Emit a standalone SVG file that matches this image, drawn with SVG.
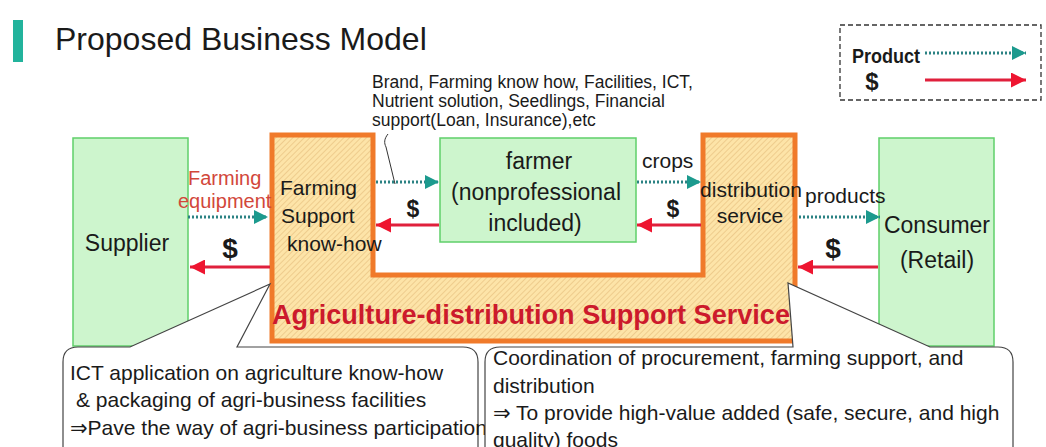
<svg xmlns="http://www.w3.org/2000/svg" width="1046" height="447" viewBox="0 0 1046 447">
  <style>
    text { font-family: "Liberation Sans", Arial, "DejaVu Sans", sans-serif; fill: #1a1a1a; }
    .box { fill: #cdf5cd; stroke: #5fcf6a; stroke-width: 1.5; }
    .lbl { font-size: 23px; }
    .mid { text-anchor: middle; }
    .small { font-size: 21px; }
    .note { font-size: 17.5px; }
    .dollar { font-weight: bold; text-anchor: middle; }
    .prod { fill: none; stroke: #2b8283; stroke-width: 3; stroke-dasharray: 2 2; marker-end: url(#tealHead); }
    .money { fill: none; stroke: #e0203c; stroke-width: 3; marker-end: url(#redHead); }
    .callout { fill: #ffffff; stroke: #444; stroke-width: 1.2; }
    .cap { font-size: 21px; }
  </style>
  <defs>
    <marker id="tealHead" markerUnits="userSpaceOnUse" markerWidth="14" markerHeight="14" refX="14" refY="7" orient="auto">
      <path d="M0,0 L14,7 L0,14 z" fill="#1c9a8e"/>
    </marker>
    <marker id="redHead" markerUnits="userSpaceOnUse" markerWidth="15" markerHeight="15" refX="15" refY="7.5" orient="auto">
      <path d="M0,0 L15,7.5 L0,15 z" fill="#ee1530"/>
    </marker>
    <pattern id="hatch" patternUnits="userSpaceOnUse" width="4" height="4" patternTransform="rotate(45)">
      <rect width="4" height="4" fill="#fde4a8"/>
      <line x1="0" y1="0" x2="0" y2="4" stroke="#e6c07e" stroke-width="1.3"/>
    </pattern>
  </defs>

  <rect width="1046" height="447" fill="#ffffff"/>

  <!-- heading -->
  <g id="title">
    <rect x="13" y="20" width="10" height="42" fill="#22b39c"/>
    <text x="55" y="50" font-size="32" fill="#222">Proposed Business Model</text>
  </g>

  <!-- key -->
  <g id="legend">
    <rect x="840" y="25" width="201" height="75" fill="#fff" stroke="#333" stroke-width="1.3" stroke-dasharray="5 3"/>
    <text x="852" y="63" font-size="21" font-weight="bold" textLength="68" lengthAdjust="spacingAndGlyphs">Product</text>
    <text x="872" y="90" font-size="24" class="dollar">$</text>
    <line class="prod" x1="925" y1="53" x2="1026" y2="53"/>
    <line class="money" x1="925" y1="80" x2="1026" y2="80"/>
  </g>

  <!-- supplier -->
  <g id="supplier">
    <rect class="box" x="73" y="138" width="115" height="208"/>
    <text class="lbl mid" x="127" y="251">Supplier</text>
  </g>

  <!-- consumer -->
  <g id="consumer">
    <rect class="box" x="879" y="138" width="115" height="208"/>
    <text class="lbl mid" x="937" y="233">Consumer</text>
    <text class="lbl mid" x="937" y="268">(Retail)</text>
  </g>

  <!-- support service (U shape) -->
  <g id="support-service">
    <path d="M272,135 H373 V275 H703 V135 H795 V341 H272 Z" fill="url(#hatch)" stroke="#f07a2a" stroke-width="5" stroke-linejoin="miter"/>
    <text class="small" x="280" y="195">Farming</text>
    <text class="small" x="281" y="223">Support</text>
    <text class="small" x="287" y="251">know-how</text>
    <text class="small" x="700" y="197" textLength="102" lengthAdjust="spacingAndGlyphs">distribution</text>
    <text class="small mid" x="750" y="223">service</text>
    <text x="272" y="324" font-size="27" font-weight="bold" fill="#cc1a2c" style="fill:#cc1a2c" textLength="518" lengthAdjust="spacingAndGlyphs">Agriculture-distribution Support Service</text>
  </g>

  <!-- farmer -->
  <g id="farmer">
    <rect class="box" x="440" y="138" width="196" height="104"/>
    <text class="lbl mid" x="539" y="169">farmer</text>
    <text class="lbl mid" x="536" y="200">(nonprofessional</text>
    <text class="lbl mid" x="535" y="231">included)</text>
  </g>

  <!-- resources note -->
  <g id="resources-note">
    <text class="note" x="372" y="88">Brand, Farming know how, Facilities, ICT,</text>
    <text class="note" x="372" y="107">Nutrient solution, Seedlings, Financial</text>
    <text class="note" x="372" y="126">support(Loan, Insurance),etc</text>
    <path d="M388,134 C384,139 384,143 386,147 L395,184" fill="none" stroke="#333" stroke-width="1"/>
  </g>

  <!-- flows between the parties -->
  <g id="connectors">
    <line class="prod" x1="188" y1="217" x2="268" y2="217"/>
    <line class="money" x1="270" y1="267" x2="190" y2="267"/>
    <line class="prod" x1="376" y1="182" x2="439" y2="182"/>
    <line class="money" x1="439" y1="225" x2="376" y2="225"/>
    <line class="prod" x1="637" y1="182" x2="701" y2="182"/>
    <line class="money" x1="701" y1="225" x2="637" y2="225"/>
    <line class="prod" x1="799" y1="217" x2="880" y2="217"/>
    <line class="money" x1="878" y1="267" x2="798" y2="267"/>
  </g>

  <!-- flow labels -->
  <g id="flow-labels">
    <text x="188" y="185" font-size="20" fill="#d2473a" style="fill:#d2473a">Farming</text>
    <text x="178" y="208" font-size="20" fill="#d2473a" style="fill:#d2473a">equipment</text>
    <text class="dollar" x="230" y="258" font-size="28">$</text>
    <text class="dollar" x="413" y="217" font-size="23">$</text>
    <text class="small" x="642" y="168">crops</text>
    <text class="dollar" x="673" y="217" font-size="23">$</text>
    <text class="small" x="805" y="203">products</text>
    <text class="dollar" x="833" y="258" font-size="28">$</text>
  </g>

  <!-- left explanation callout -->
  <g id="callout-left">
    <path class="callout" d="M78,347 H130 L270,284 L237,347 H463 Q478,347 478,362 V470 H63 V362 Q63,347 78,347 Z"/>
    <text class="cap" x="70" y="380">ICT application on agriculture know-how</text>
    <text class="cap" x="76" y="407">&amp; packaging of agri-business facilities</text>
    <text class="cap" x="70" y="435">⇒Pave the way of agri-business participation</text>
  </g>

  <!-- right explanation callout -->
  <g id="callout-right">
    <path class="callout" d="M500,347 H793 L788,283 L930,347 H998 Q1013,347 1013,362 V470 H485 V362 Q485,347 500,347 Z"/>
    <text class="cap" x="493" y="365">Coordination of procurement, farming support, and</text>
    <text class="cap" x="493" y="393">distribution</text>
    <text class="cap" x="493" y="420">⇒ To provide high-value added (safe, secure, and high</text>
    <text class="cap" x="493" y="447">quality) foods</text>
  </g>
</svg>
